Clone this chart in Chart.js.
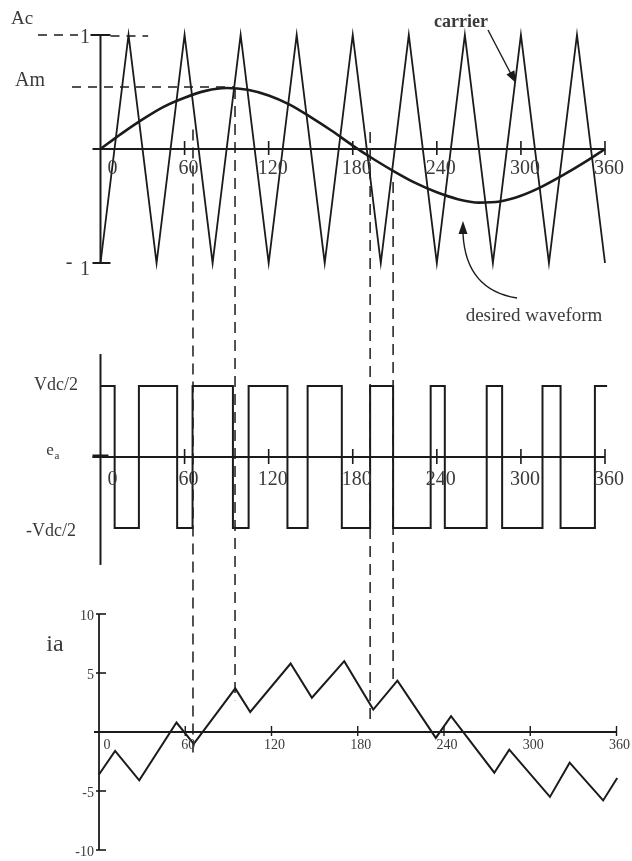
<!DOCTYPE html>
<html><head><meta charset="utf-8">
<script src="https://cdn.jsdelivr.net/npm/chart.js@4/dist/chart.umd.min.js"></script>
<style>html,body{margin:0;padding:0;background:#fff;overflow:hidden}canvas{display:block}</style>
</head><body>
<canvas id="c" width="632" height="861"></canvas>
<script>
// ---- data ----
const angleTicks = [0, 60, 120, 180, 240, 300, 360];
const angleTickLabels = ['0', '60', '120', '180', '240', '300', '360'];

const carrierAngle = [0, 20, 40, 60, 80, 100, 120, 140, 160, 180, 200, 220, 240, 260, 280, 300, 320, 340, 360];
const carrierValue = [-1, 1, -1, 1, -1, 1, -1, 1, -1, 1, -1, 1, -1, 1, -1, 1, -1, 1, -1];

const refAngle = [0, 15, 30, 45, 60, 75, 90, 105, 120, 135, 150, 165, 180, 195, 210, 225, 240, 255, 270, 285, 300, 315, 330, 345, 360];
const refValue = [0, 0.135, 0.26, 0.37, 0.45, 0.51, 0.535, 0.52, 0.47, 0.39, 0.28, 0.16, 0.03, -0.09, -0.2, -0.3, -0.38, -0.44, -0.47, -0.46, -0.41, -0.33, -0.23, -0.12, 0];

const pwmAngle = [0, 10.1, 27.4, 54.7, 65.7, 94.5, 105.7, 133.4, 147.8, 172.2, 192.4, 208.8, 235.6, 245.7, 275.6, 286.6, 315.4, 328.3, 352.8, 361.5];
const pwmLevel = [1, -1, 1, -1, 1, -1, 1, -1, 1, -1, 1, -1, 1, -1, 1, -1, 1, -1, 1, 1];

const iaAngle = [0, 11.2, 28, 53.9, 65.9, 94.8, 105.2, 133.3, 148.1, 170.6, 190.8, 207.6, 234.3, 244.9, 275, 285.4, 313.7, 327.4, 350.7, 360.5];
const iaValue = [-3.6, -1.6, -4.1, 0.8, -1.0, 3.7, 1.7, 5.8, 2.9, 6.0, 1.9, 4.35, -0.5, 1.35, -3.45, -1.5, -5.5, -2.6, -5.8, -3.9];
const iaTicks = [10, 5, 0, -5, -10];
const iaTickLabels = ['10', '5', '', '-5', '-10'];

const markerAngle = [66, 96, 192.4, 208.8];
const markerTopValue = [0.17, 0.535, 0.15, -0.29];
const markerBottomValue = [-2.1, 2.7, 0.85, 4.4];

// ---- helpers ----
const pts = (xs, ys) => xs.map((x, i) => ({x, y: ys[i]}));
const INK = '#1b1b1b';
const TXT = '#3a3a3a';
const SERIF = '"Liberation Serif", "Times New Roman", serif';

function line(ctx, x1, y1, x2, y2, w, dash) {
  ctx.save();
  ctx.lineWidth = w || 2;
  ctx.strokeStyle = INK;
  ctx.setLineDash(dash || []);
  ctx.beginPath(); ctx.moveTo(x1, y1); ctx.lineTo(x2, y2); ctx.stroke();
  ctx.restore();
}
function text(ctx, s, x, y, size, opts) {
  opts = opts || {};
  ctx.save();
  ctx.font = (opts.weight || '') + ' ' + size + 'px ' + SERIF;
  ctx.fillStyle = opts.color || TXT;
  ctx.textAlign = opts.align || 'center';
  ctx.textBaseline = 'middle';
  ctx.fillText(s, x, y);
  ctx.restore();
}
function arrowHead(ctx, tx, ty, angle, len, half) {
  ctx.save();
  ctx.fillStyle = INK;
  ctx.beginPath();
  ctx.moveTo(tx, ty);
  ctx.lineTo(tx - len * Math.cos(angle) + half * Math.sin(angle), ty - len * Math.sin(angle) - half * Math.cos(angle));
  ctx.lineTo(tx - len * Math.cos(angle) - half * Math.sin(angle), ty - len * Math.sin(angle) + half * Math.cos(angle));
  ctx.closePath(); ctx.fill();
  ctx.restore();
}

const decor = {
  id: 'decor',
  beforeDatasetsDraw(chart) {
    const ctx = chart.ctx;
    const X = chart.scales.x, XB = chart.scales.xb;
    const YT = chart.scales.yTop, YM = chart.scales.yMid, YB = chart.scales.yBot;
    const x0 = X.getPixelForValue(0), x360 = X.getPixelForValue(360);

    // ---- top panel axes ----
    const yt0 = YT.getPixelForValue(0), yt1 = YT.getPixelForValue(1), ytm = YT.getPixelForValue(-1);
    line(ctx, x0, yt1, x0, ytm, 2);
    line(ctx, x0 - 10, yt1, x0 + 10, yt1, 2);
    line(ctx, x0 - 8, ytm, x0 + 10, ytm, 2);
    line(ctx, x0 - 8, yt0, x360, yt0, 2);
    angleTicks.forEach(a => { if (a > 0) { const p = X.getPixelForValue(a); line(ctx, p, yt0 - 8, p, yt0 + 6, 1.6); } });
    // reference dashed lines for Ac and Am
    line(ctx, 38, yt1, 78, yt1, 1.3, [9, 7]);
    line(ctx, x0 + 10, yt1 + 1, X.getPixelForValue(34), yt1 + 1, 1.3, [9, 7]);
    const yAm = YT.getPixelForValue(refValue[6]) - 1;
    line(ctx, 72, yAm, X.getPixelForValue(96), yAm, 1.3, [9, 7]);

    // ---- middle panel axes ----
    const ym0 = YM.getPixelForValue(0);
    line(ctx, x0, YM.getPixelForValue(1.45), x0, YM.getPixelForValue(-1.52), 2);
    line(ctx, x0 - 8, ym0, x360, ym0, 2);
    line(ctx, x0 - 8, ym0 - 1, x0 + 8, ym0 - 1, 3);
    angleTicks.forEach(a => { if (a > 0) { const p = X.getPixelForValue(a); line(ctx, p, ym0 - 8, p, ym0 + 7, 1.6); } });

    // ---- bottom panel axes ----
    const xb0 = XB.getPixelForValue(0), xb360 = XB.getPixelForValue(360);
    const yb0 = YB.getPixelForValue(0);
    line(ctx, xb0, YB.getPixelForValue(10), xb0, YB.getPixelForValue(-10), 1.8);
    line(ctx, xb0 - 5, yb0, xb360, yb0, 1.8);
    iaTicks.forEach(v => { const p = YB.getPixelForValue(v); line(ctx, xb0 - 3, p, xb0 + 7, p, 1.6); });
    angleTicks.forEach(a => { if (a > 0) { const p = XB.getPixelForValue(a); line(ctx, p, yb0 - 6, p, yb0 + 4, 1.4); } });

    // ---- vertical dashed guide lines ----
    markerAngle.forEach((a, i) => {
      const p = X.getPixelForValue(a);
      line(ctx, p, YT.getPixelForValue(markerTopValue[i]), p, YB.getPixelForValue(markerBottomValue[i]), 1.5, [11, 7]);
    });
  },
  afterDatasetsDraw(chart) {
    const ctx = chart.ctx;
    const X = chart.scales.x, XB = chart.scales.xb;
    const YT = chart.scales.yTop, YM = chart.scales.yMid, YB = chart.scales.yBot;
    const yt0 = YT.getPixelForValue(0), ym0 = YM.getPixelForValue(0), yb0 = YB.getPixelForValue(0);
    const xb0 = XB.getPixelForValue(0);

    // tick labels
    angleTicks.forEach((a, i) => {
      const off = a === 0 ? 12 : 4;
      const p = X.getPixelForValue(a) + off;
      text(ctx, angleTickLabels[i], p, yt0 + 20, 20);
      text(ctx, angleTickLabels[i], p, ym0 + 23, 20);
      const pb = XB.getPixelForValue(a) + (a === 0 ? 8 : 3);
      text(ctx, angleTickLabels[i], pb, yb0 + 13, 14);
    });
    iaTicks.forEach((v, i) => {
      if (!iaTickLabels[i]) return;
      text(ctx, iaTickLabels[i], xb0 - 5, YB.getPixelForValue(v) + 2, 14, {align: 'right'});
    });

    // top panel labels
    text(ctx, 'Ac', 22, 19, 19);
    text(ctx, '1', 85, YT.getPixelForValue(1) + 3, 20);
    text(ctx, '-', 69, YT.getPixelForValue(-1), 20);
    text(ctx, '1', 85, YT.getPixelForValue(-1) + 7, 20);
    text(ctx, 'Am', 30, 81, 20);
    text(ctx, 'carrier', 461, 22, 18, {weight: 'bold'});
    text(ctx, 'desired waveform', 534, 316, 19);

    // arrows
    ctx.save();
    ctx.strokeStyle = INK; ctx.lineWidth = 1.4;
    ctx.beginPath(); ctx.moveTo(488, 30); ctx.lineTo(512, 76); ctx.stroke();
    ctx.beginPath(); ctx.moveTo(517, 298); ctx.quadraticCurveTo(466, 290, 463, 234); ctx.stroke();
    ctx.restore();
    arrowHead(ctx, 516, 83, Math.atan2(53, 28), 12, 4.5);
    arrowHead(ctx, 463, 221, -Math.PI / 2, 13, 4.5);

    // middle panel labels
    text(ctx, 'Vdc/2', 56, YM.getPixelForValue(1) - 1, 18);
    text(ctx, '-Vdc/2', 51, YM.getPixelForValue(-1) + 3, 18);
    text(ctx, 'e', 50, ym0 - 6, 17);
    text(ctx, 'a', 57, ym0 - 1, 11);

    // bottom panel label
    text(ctx, 'ia', 55, 645, 24);
  }
};

new Chart(document.getElementById('c'), {
  type: 'scatter',
  data: {
    datasets: [
      {label: 'carrier', data: pts(carrierAngle, carrierValue), xAxisID: 'x', yAxisID: 'yTop',
       showLine: true, borderColor: INK, borderWidth: 1.8, pointRadius: 0, tension: 0},
      {label: 'desired waveform', data: pts(refAngle, refValue), xAxisID: 'x', yAxisID: 'yTop',
       showLine: true, borderColor: INK, borderWidth: 2.6, pointRadius: 0, cubicInterpolationMode: 'monotone'},
      {label: 'ea', data: pts(pwmAngle, pwmLevel), xAxisID: 'x', yAxisID: 'yMid',
       showLine: true, stepped: 'before', borderColor: INK, borderWidth: 2, pointRadius: 0},
      {label: 'ia', data: pts(iaAngle, iaValue), xAxisID: 'xb', yAxisID: 'yBot',
       showLine: true, borderColor: INK, borderWidth: 2, pointRadius: 0, tension: 0}
    ]
  },
  options: {
    responsive: false,
    animation: false,
    devicePixelRatio: 1,
    layout: {padding: 0},
    plugins: {legend: {display: false}, tooltip: {enabled: false}},
    scales: {
      x: {type: 'linear', display: false, min: -71.71, max: 379.27},
      xb: {type: 'linear', display: false, min: -68.87, max: 370.78},
      yTop: {type: 'linear', display: false, min: -6.2456, max: 1.3070},
      yMid: {type: 'linear', display: false, min: -5.6902, max: 6.4366},
      yBot: {type: 'linear', display: false, min: -10.932, max: 62.034}
    }
  },
  plugins: [decor]
});
</script>
</body></html>
